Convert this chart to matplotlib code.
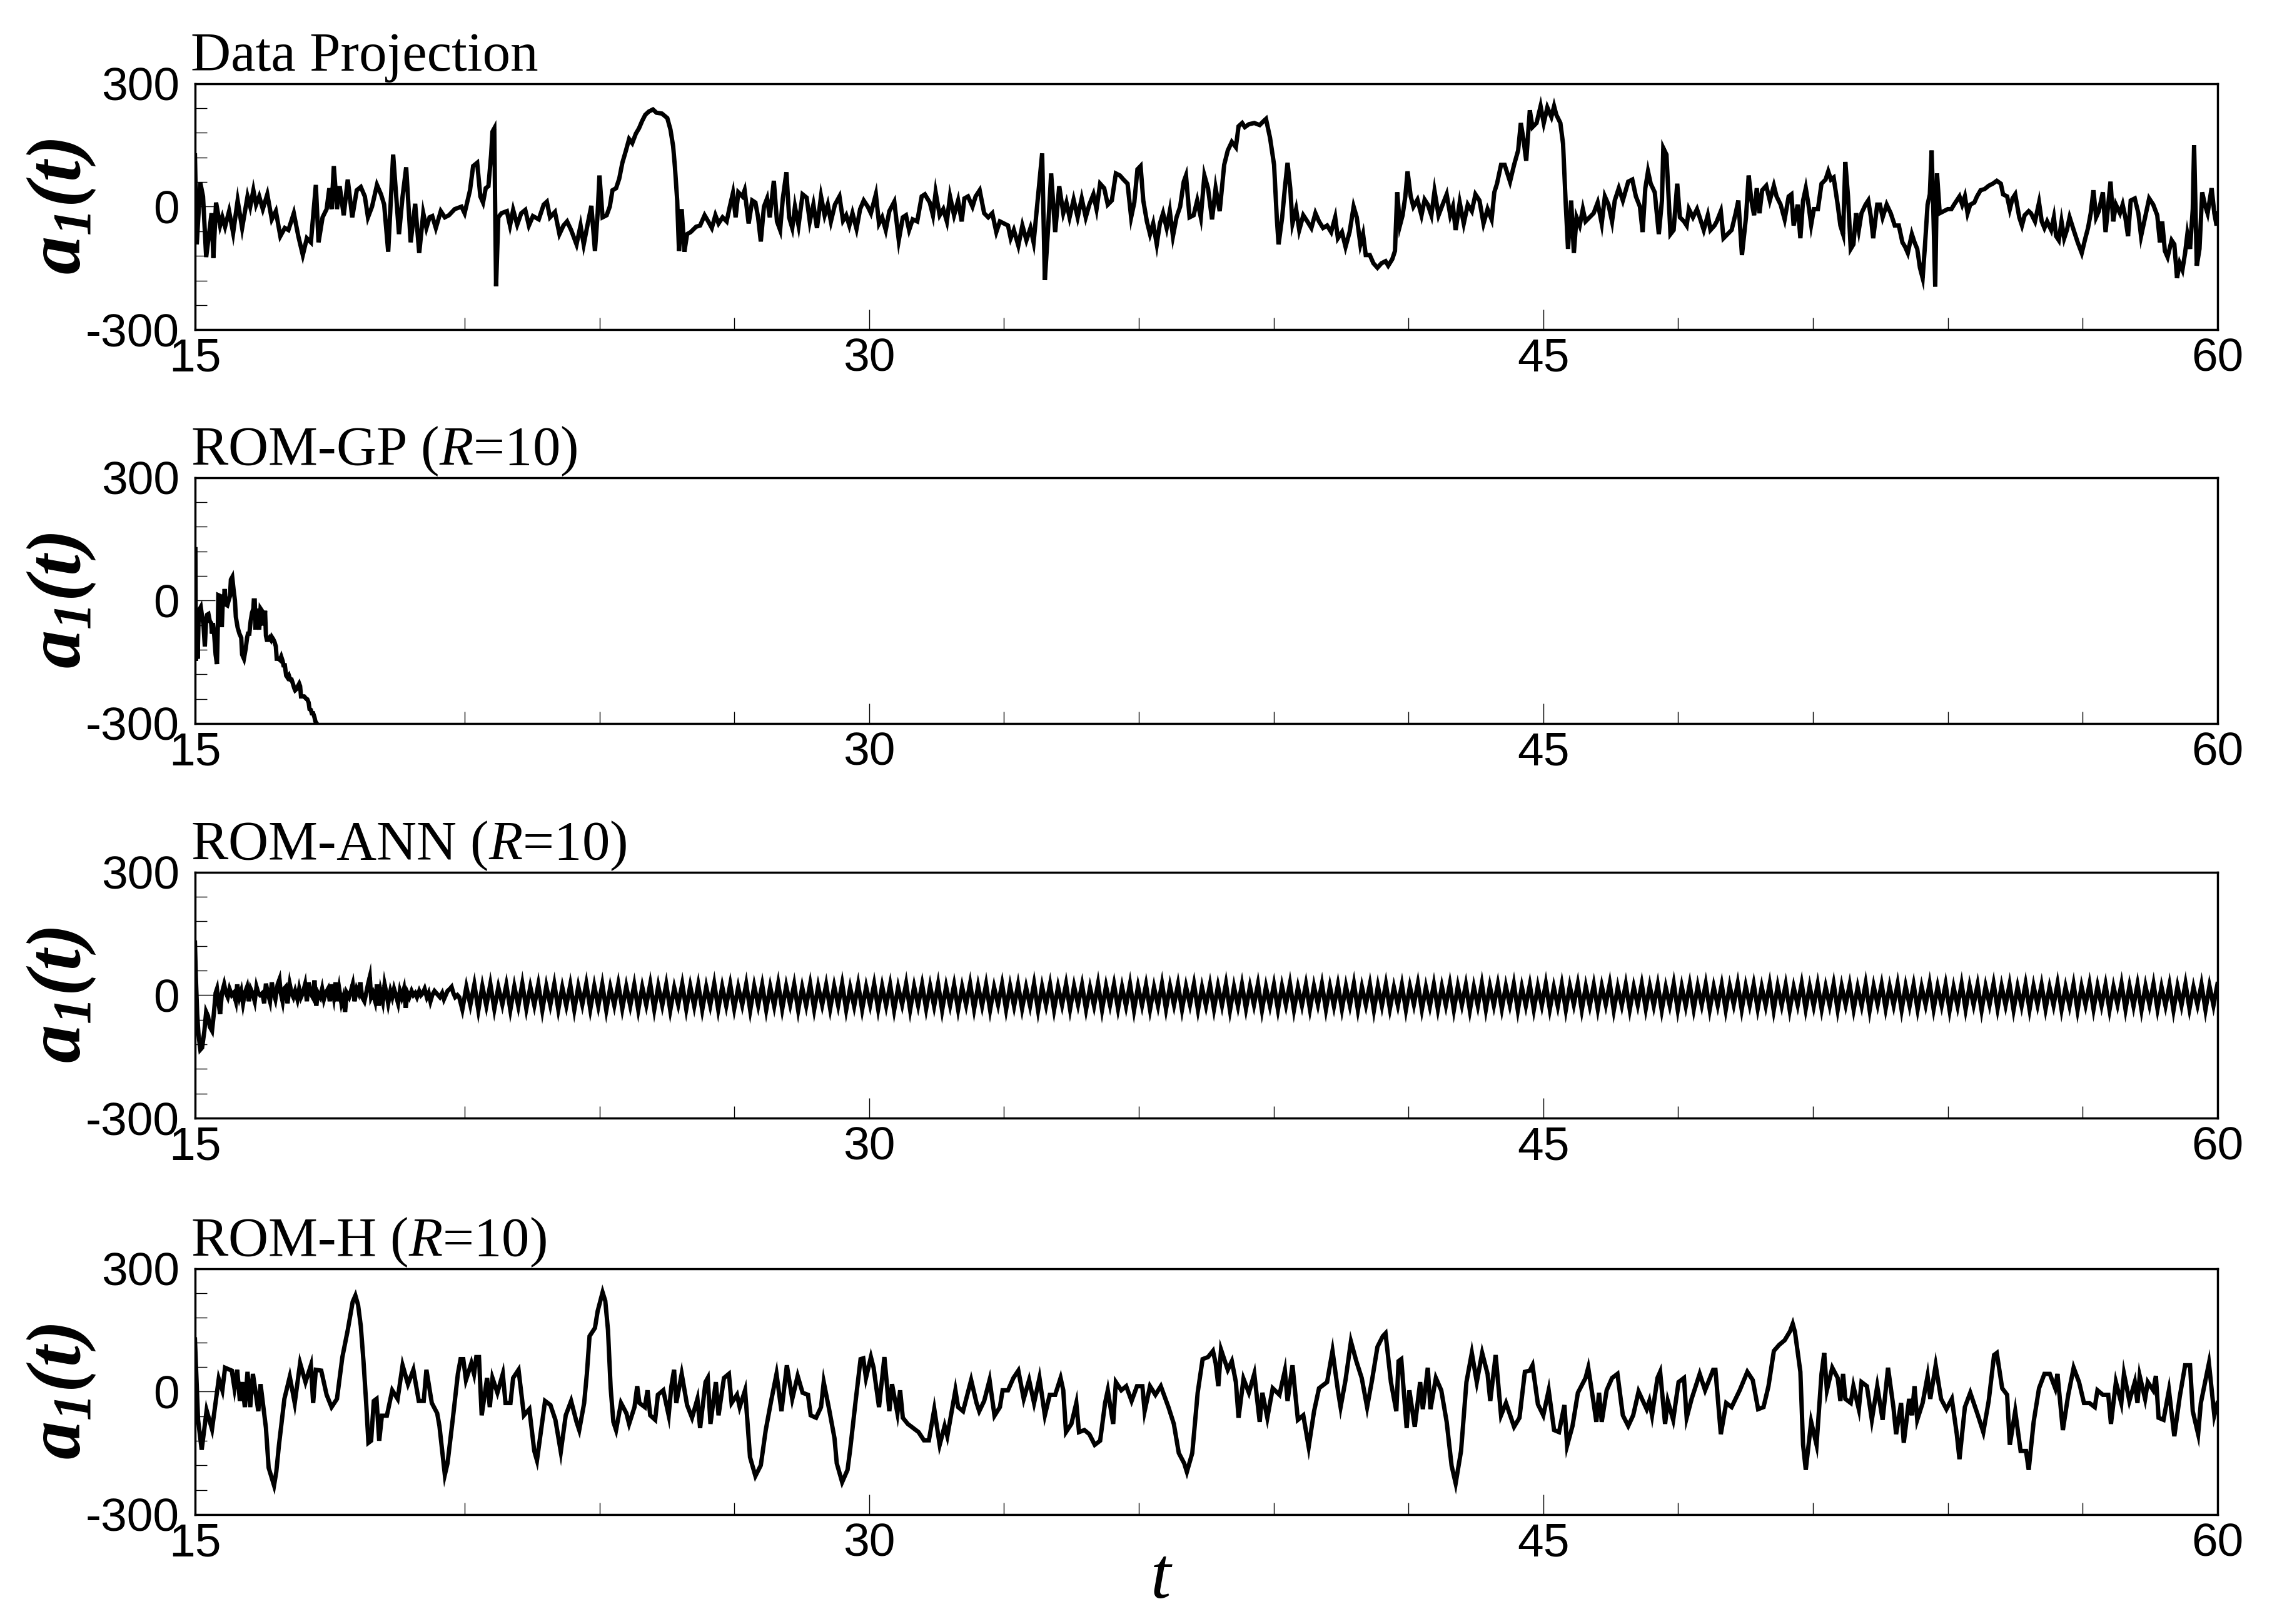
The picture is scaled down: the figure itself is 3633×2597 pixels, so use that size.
import matplotlib
matplotlib.use("Agg")
import matplotlib.pyplot as plt
import numpy as np

# ---- data: (t, a1) pairs ----
proj_pts = [
    (15.00, 125), (15.04, -92), (15.12, 58), (15.18, 25), (15.25, -123), (15.37, -16), (15.41, -125),
    (15.47, 10), (15.56, -46), (15.61, -26), (15.67, -49), (15.76, -11), (15.85, -64), (15.95, 15),
    (16.05, -52), (16.17, 25), (16.23, 0), (16.30, 40), (16.36, 5), (16.43, 25), (16.51, -6), (16.61, 30),
    (16.71, -31), (16.80, -11), (16.90, -72), (17.00, -52), (17.08, -57), (17.20, -16), (17.30, -72),
    (17.40, -118), (17.49, -77), (17.58, -87), (17.69, 53), (17.75, -87), (17.84, -26), (17.93, -6),
    (17.99, 45), (18.04, -6), (18.09, 99), (18.16, -6), (18.22, 50), (18.31, -21), (18.40, 66),
    (18.50, -26), (18.60, 40), (18.69, 48), (18.78, 25), (18.85, -26), (18.94, 0), (19.05, 53),
    (19.14, 30), (19.21, 5), (19.30, -110), (19.41, 127), (19.54, -67), (19.62, 25), (19.70, 96),
    (19.80, -87), (19.90, 7), (19.99, -113), (20.08, -16), (20.15, -52), (20.22, -26), (20.28, -23),
    (20.36, -52), (20.47, -11), (20.56, -26), (20.65, -21), (20.78, -6), (20.93, 0), (21.00, -16),
    (21.12, 40), (21.19, 99), (21.28, 107), (21.35, 25), (21.41, 10), (21.47, 45), (21.53, 50),
    (21.59, 127), (21.62, 183), (21.66, 191), (21.70, -194), (21.75, -26), (21.82, -16), (21.94, -11),
    (22.01, -46), (22.08, -8), (22.17, -44), (22.26, -16), (22.35, -8), (22.43, -46), (22.52, -23),
    (22.65, -31), (22.76, 5), (22.83, 12), (22.90, -26), (23.01, -13), (23.11, -67), (23.20, -46),
    (23.28, -36), (23.37, -57), (23.49, -92), (23.58, -46), (23.65, -92), (23.75, -36), (23.82, 2),
    (23.90, -108), (23.96, -16), (24.00, 76), (24.07, -26), (24.16, -21), (24.23, 0), (24.29, 40),
    (24.37, 45), (24.44, 68), (24.51, 107), (24.59, 137), (24.66, 165), (24.73, 155), (24.81, 178),
    (24.88, 191), (24.95, 209), (25.02, 224), (25.10, 232), (25.19, 237), (25.27, 229), (25.39, 227),
    (25.51, 216), (25.58, 188), (25.64, 147), (25.68, 96), (25.73, 15), (25.77, -108), (25.83, -6),
    (25.89, -110), (25.95, -67), (26.03, -62), (26.15, -49), (26.24, -46), (26.34, -21), (26.42, -36),
    (26.50, -52), (26.58, -21), (26.65, -41), (26.74, -26), (26.83, -36), (26.90, 0), (26.97, 33),
    (27.03, -26), (27.09, 35), (27.18, 25), (27.23, 40), (27.32, -41), (27.40, 15), (27.47, 10),
    (27.53, -26), (27.59, -85), (27.66, 0), (27.73, 20), (27.79, -26), (27.88, 63), (27.95, -36),
    (28.02, -57), (28.08, 20), (28.16, 84), (28.22, -26), (28.29, -52), (28.35, 0), (28.43, -46),
    (28.52, 30), (28.61, 22), (28.68, -36), (28.76, 5), (28.84, -52), (28.93, 25), (29.01, -21),
    (29.08, 5), (29.15, -36), (29.24, 5), (29.34, 25), (29.42, -34), (29.49, -21), (29.56, -46),
    (29.63, -16), (29.72, -54), (29.80, -6), (29.88, 15), (29.97, 0), (30.04, -16), (30.15, 30),
    (30.22, -41), (30.29, -26), (30.37, -57), (30.45, -11), (30.56, 12), (30.66, -82), (30.75, -26),
    (30.82, -21), (30.89, -57), (30.97, -31), (31.07, -36), (31.17, 25), (31.24, 30), (31.35, 10),
    (31.42, -21), (31.48, 35), (31.57, -21), (31.65, -6), (31.73, -36), (31.80, 25), (31.89, -21),
    (31.98, 15), (32.06, -36), (32.12, 20), (32.20, 25), (32.30, 0), (32.37, 25), (32.46, 40),
    (32.56, -16), (32.65, -26), (32.74, -16), (32.83, -62), (32.91, -36), (33.00, -41), (33.09, -46),
    (33.15, -77), (33.22, -57), (33.32, -95), (33.41, -46), (33.50, -82), (33.59, -52), (33.66, -87),
    (33.75, 15), (33.85, 130), (33.91, -179), (33.98, -57), (34.05, 81), (34.14, -62), (34.23, 50),
    (34.32, -16), (34.39, 10), (34.46, -26), (34.55, 17), (34.64, -26), (34.73, 20), (34.82, -26),
    (34.90, 5), (34.99, 30), (35.06, -6), (35.14, 56), (35.23, 45), (35.31, 5), (35.40, 15), (35.49, 81),
    (35.58, 76), (35.66, 66), (35.75, 56), (35.83, -26), (35.90, 10), (35.97, 91), (36.04, 99),
    (36.10, 15), (36.18, -36), (36.25, -67), (36.32, -41), (36.40, -92), (36.47, -41), (36.54, -16),
    (36.62, -52), (36.69, -11), (36.76, -72), (36.84, -26), (36.92, 0), (37.00, 61), (37.05, 76),
    (37.13, -26), (37.22, -21), (37.30, 15), (37.38, -26), (37.46, 76), (37.54, 45), (37.63, -31),
    (37.71, 45), (37.80, -11),
    (37.90, 102), (37.98, 137), (38.07, 158), (38.16, 145), (38.22, 196), (38.30, 204), (38.36, 194),
    (38.45, 201), (38.57, 204), (38.69, 199), (38.78, 209), (38.83, 214), (38.92, 168), (39.01, 102),
    (39.07, -26), (39.11, -92), (39.19, -26), (39.25, 45), (39.31, 107), (39.37, 45), (39.42, -41),
    (39.50, -6), (39.57, -57), (39.66, -21), (39.75, -36), (39.84, -52), (39.93, -16), (40.01, -36),
    (40.10, -52), (40.19, -46), (40.28, -62), (40.37, -26), (40.43, -77), (40.52, -62), (40.60, -98),
    (40.69, -62), (40.78, 0), (40.85, -26), (40.93, -92), (40.99, -67), (41.05, -118), (41.14, -118),
    (41.22, -138), (41.31, -149), (41.40, -138), (41.49, -133), (41.55, -144), (41.64, -128),
    (41.70, -108), (41.75, 35), (41.81, -46), (41.87, -21), (41.93, 25), (41.98, 86), (42.05, 25),
    (42.11, 0), (42.20, 17), (42.29, -21), (42.36, 17), (42.43, 5), (42.51, -21), (42.58, 38),
    (42.67, -21), (42.76, 5), (42.85, 30), (42.93, -21), (42.99, 0), (43.05, -57), (43.14, 10),
    (43.23, -41), (43.32, 5), (43.41, -11), (43.49, 30), (43.58, 15), (43.67, -41), (43.76, -6),
    (43.85, -31), (43.91, 35), (43.97, 56), (44.06, 102), (44.14, 102), (44.26, 61), (44.35, 102),
    (44.44, 137), (44.50, 204), (44.56, 163), (44.62, 112), (44.70, 235), (44.76, 194), (44.85, 204),
    (44.94, 245), (45.01, 204), (45.09, 242), (45.18, 219), (45.24, 245), (45.29, 224), (45.38, 204),
    (45.44, 153), (45.50, 5), (45.55, -103), (45.62, 15), (45.68, -113), (45.74, -26), (45.81, -46),
    (45.88, -6), (45.94, -36), (46.03, -26), (46.12, -16), (46.21, 10), (46.30, -41), (46.37, 25),
    (46.45, 5), (46.53, -36), (46.59, 15), (46.68, 45), (46.77, 15), (46.89, 61), (46.98, 66),
    (47.06, 25), (47.15, 0), (47.21, -62), (47.27, 45), (47.33, 86), (47.39, 56), (47.48, 35),
    (47.57, -67), (47.64, 15), (47.67, 143), (47.74, 127), (47.83, -67), (47.90, -57), (47.98, 56),
    (48.04, -26), (48.13, -36), (48.19, -46), (48.24, -6), (48.33, -26), (48.42, -6), (48.48, -26),
    (48.57, -57), (48.66, -21), (48.72, -57), (48.81, -46), (48.86, -36), (48.95, -11), (49.01, -77),
    (49.10, -67), (49.19, -57), (49.28, -16), (49.34, 15), (49.42, -118), (49.51, -26), (49.57, 76),
    (49.63, 15), (49.69, -21), (49.75, 45), (49.81, -16), (49.87, 40), (49.96, 51), (50.04, 15),
    (50.13, 51), (50.19, 25), (50.28, 5), (50.37, -31), (50.46, 25), (50.52, 30), (50.57, -46),
    (50.66, 5), (50.72, -77), (50.78, 15), (50.84, 45), (50.90, 5), (50.96, -44), (51.02, -6),
    (51.11, -6), (51.19, 56), (51.28, 66), (51.34, 86), (51.40, 66), (51.46, 71), (51.55, 5),
    (51.61, -46), (51.67, -67), (51.72, 109), (51.78, 25), (51.84, -103), (51.90, -92), (51.96, -16),
    (52.02, -57), (52.08, -16), (52.17, 5), (52.23, 15), (52.29, -26), (52.34, -77), (52.43, 5),
    (52.49, 5), (52.55, -26), (52.64, 5), (52.73, -16), (52.82, -46), (52.91, -46), (52.99, -87),
    (53.05, -98), (53.11, -113), (53.20, -67), (53.26, -87), (53.32, -103), (53.38, -149),
    (53.44, -174), (53.49, -98), (53.55, 5), (53.60, 30), (53.64, 137), (53.67, 25), (53.72, -195),
    (53.76, 81), (53.82, -16), (53.91, -11), (54.00, -6), (54.08, -6), (54.14, 5), (54.20, 15),
    (54.26, 25), (54.32, 5), (54.38, 25), (54.44, -16), (54.50, 5), (54.59, 10), (54.65, 25),
    (54.73, 40), (54.82, 43), (54.91, 51), (55.00, 56), (55.09, 63), (55.18, 56), (55.23, 30),
    (55.32, 25), (55.38, -6), (55.44, 20), (55.50, 30), (55.59, -26), (55.65, -46), (55.71, -21),
    (55.80, -11), (55.85, -16), (55.94, -36), (56.03, 10), (56.09, -36), (56.15, -52), (56.21, -36),
    (56.30, -57), (56.36, -26), (56.41, -72), (56.47, -82), (56.53, -36), (56.59, -77), (56.65, -57),
    (56.71, -26), (56.80, -57), (56.89, -87), (56.98, -113), (57.06, -77), (57.12, -52), (57.18, -16),
    (57.24, 40), (57.30, -26), (57.36, -11), (57.45, 35), (57.51, -62), (57.57, 5), (57.62, 61),
    (57.68, -36), (57.74, 5), (57.83, -16), (57.89, 5), (57.95, -26), (58.01, -72), (58.07, 15),
    (58.16, 20), (58.24, -16), (58.30, -72), (58.39, -26), (58.48, 20), (58.57, 5), (58.66, -21),
    (58.72, -87), (58.77, -36), (58.83, -108), (58.89, -123), (58.98, -82), (59.04, -92),
    (59.10, -174), (59.16, -138), (59.22, -154), (59.28, -113), (59.33, -67), (59.39, -103),
    (59.45, -6), (59.48, 150), (59.54, -144), (59.60, -103), (59.66, 35), (59.72, 5), (59.78, -16),
    (59.87, 45), (59.93, -16), (59.98, -46), (60.00, -16),
]

gp_pts = [
    (15.01, 125), (15.02, -147), (15.04, -20), (15.06, -142), (15.08, -50), (15.11, -20), (15.13, -16),
    (15.16, -40), (15.19, -60), (15.22, -112), (15.25, -45), (15.27, -35), (15.30, -33), (15.33, -50),
    (15.36, -55), (15.38, -81), (15.40, -55), (15.43, -86), (15.46, -132), (15.49, -155), (15.51, -60),
    (15.52, 13), (15.56, 11), (15.58, -60), (15.60, -60), (15.62, 0), (15.64, -10), (15.66, 28),
    (15.69, -10), (15.72, -12), (15.75, 0), (15.78, 11), (15.80, 51), (15.83, 57), (15.86, 26),
    (15.89, 0), (15.91, -40), (15.95, -66), (15.99, -81), (16.03, -91), (16.05, -132), (16.09, -142),
    (16.13, -117), (16.16, -91), (16.18, -81), (16.21, -81), (16.24, -50), (16.27, -30), (16.30, -20),
    (16.31, 0), (16.33, 0), (16.35, -71), (16.37, -20), (16.40, -45), (16.43, -71), (16.46, -20),
    (16.49, -25), (16.52, -61), (16.55, -40), (16.56, -25), (16.58, -86), (16.60, -96), (16.63, -96),
    (16.66, -91), (16.69, -96), (16.71, -89), (16.74, -94), (16.77, -101), (16.80, -112), (16.82, -142),
    (16.86, -142), (16.89, -145), (16.92, -137), (16.95, -147), (16.97, -158), (17.00, -158),
    (17.03, -183), (17.06, -188), (17.09, -183), (17.12, -193), (17.15, -193), (17.18, -203),
    (17.21, -214), (17.23, -219), (17.26, -216), (17.29, -209), (17.32, -203), (17.34, -209),
    (17.36, -234), (17.39, -234), (17.43, -234), (17.47, -239), (17.50, -241), (17.53, -249),
    (17.55, -265), (17.58, -267), (17.60, -275), (17.63, -275), (17.66, -285), (17.68, -295),
    (17.71, -300), (17.74, -320),
]

ann_start_pts = [
    (15.00, 128), (15.02, 46), (15.05, -46), (15.08, -97), (15.12, -133), (15.16, -128), (15.21, -87),
    (15.25, -41), (15.29, -51), (15.33, -77), (15.38, -87), (15.42, -46), (15.46, 5), (15.49, 15),
    (15.52, -15), (15.56, -46), (15.60, 5), (15.65, 26), (15.69, 5), (15.73, -5), (15.77, 15),
    (15.82, 0), (15.86, 5), (15.91, -15), (15.94, 26), (15.99, -5), (16.03, 10), (16.07, -20),
    (16.11, 5), (16.16, 20), (16.20, -15), (16.24, 15), (16.28, 5), (16.33, -15), (16.37, 20),
    (16.41, 5), (16.45, 0), (16.50, 5), (16.54, -20), (16.58, 28), (16.62, 5), (16.67, -15),
    (16.71, 31), (16.75, 5), (16.79, -10), (16.84, 26), (16.88, 38), (16.91, 5), (16.95, -15),
    (16.98, 15), (17.02, 20), (17.06, -20), (17.11, 26), (17.15, 5), (17.19, -5), (17.23, 10),
    (17.28, -10), (17.32, 15), (17.36, -5), (17.40, 5), (17.45, 26), (17.49, -15), (17.53, 31),
    (17.57, 5), (17.62, -5), (17.66, 36), (17.70, -26), (17.74, 5), (17.79, -5), (17.83, 15),
    (17.87, -10), (17.91, 5), (17.96, 15), (18.00, -15), (18.04, 26), (18.09, -5), (18.13, 31),
    (18.17, -15), (18.21, 15), (18.26, -20), (18.30, -5), (18.34, -41), (18.38, 5), (18.43, -5),
    (18.47, 10), (18.51, 26), (18.55, -15), (18.60, 15), (18.64, 5), (18.68, 31), (18.72, -5),
    (18.77, -15), (18.81, 5), (18.85, 26), (18.89, 44), (18.92, -5), (18.96, 5), (19.01, -15),
    (19.05, 26), (19.09, -26), (19.13, 10), (19.18, -15), (19.22, 26), (19.26, 5), (19.30, -20),
    (19.35, 10), (19.39, -5), (19.43, 15), (19.47, 0), (19.52, -20), (19.56, 10), (19.60, -5),
    (19.65, 15), (19.69, -31), (19.73, 5), (19.77, -5), (19.82, 10), (19.86, 0), (19.90, 5),
    (19.94, -5), (19.99, 10), (20.03, 0), (20.07, 5), (20.11, 15), (20.16, -5), (20.20, 5),
    (20.24, -15), (20.28, 0), (20.33, 10), (20.37, 5), (20.41, 0), (20.45, -5), (20.50, 5),
    (20.54, -10), (20.58, 0), (20.62, 10), (20.67, 15), (20.71, 20), (20.75, 5), (20.79, -5),
    (20.84, 0), (20.88, -5),
]

# steady oscillation of ROM-ANN, turning points read at the sampling step
ann_steady_t0, ann_steady_t1 = 20.95, 60.0
ann_steady = [
    -35, 20, -24, 26, -37, 22, -26, 27, -34, 19, -23, 25, -36, 21, -27, 28, -33, 20, -25, 26,
    -37, 22, -24, 27, -35, 19, -26, 25, -36, 21, -23, 28, -34, 22, -27, 26, -37, 19, -25, 27,
    -33, 21, -26, 25, -36, 20, -24, 28, -35, 22, -25, 26, -37, 18, -23, 27, -34, 22, -27, 25,
    -36, 20, -25, 28, -35, 21, -26, 26, -33, 19, -24, 27, -37, 22, -25, 25, -36, 20, -27, 28,
    -34, 22, -23, 26, -37, 19, -26, 27, -35, 21, -24, 25, -33, 22, -25, 28, -36, 18, -27, 26,
    -35, 20, -24, 27, -34, 22, -26, 25, -37, 19, -23, 28, -36, 21, -25, 26, -33, 22, -27, 27,
    -37, 21, -25, 25, -35, 20, -24, 28, -34, 22, -26, 26, -36, 19, -23, 27, -35, 22, -27, 25,
    -33, 19, -26, 28, -37, 21, -25, 26, -36, 20, -24, 27, -34, 22, -23, 25, -35, 18, -26, 28,
    -36, 22, -24, 26, -33, 20, -27, 27, -37, 21, -25, 25, -35, 19, -26, 28, -34, 22, -24, 26,
    -35, 21, -23, 27, -36, 19, -26, 25, -34, 22, -25, 28, -37, 20, -27, 26, -33, 21, -24, 27,
    -37, 20, -26, 25, -35, 22, -24, 28, -36, 19, -25, 26, -34, 22, -23, 27, -35, 21, -27, 25,
    -34, 22, -25, 28, -36, 20, -24, 26, -37, 22, -26, 27, -33, 19, -25, 25, -36, 21, -23, 28,
    -35, 19, -27, 26, -34, 21, -25, 27, -36, 22, -24, 25, -37, 20, -26, 28, -35, 22, -25, 26,
    -33, 22, -24, 27, -37, 20, -26, 25, -35, 21, -25, 28, -34, 19, -27, 26, -36, 22, -23, 27,
    -36, 21, -26, 25, -34, 22, -23, 28, -37, 19, -25, 26, -35, 20, -24, 27, -33, 22, -26, 25,
    -37, 19, -25, 28, -36, 21, -27, 26, -34, 22, -24, 27, -35, 20, -25, 25, -36, 22, -23, 28,
    -35, 22, -24, 26, -33, 20, -26, 27, -37, 22, -25, 25, -36, 19, -24, 28, -34, 21, -27, 26,
    -34, 20, -25, 27, -36, 22, -24, 25, -35, 19, -26, 28, -37, 22, -23, 26, -33, 21, -25, 27,
    -36, 22, -26, 25, -35, 20, -24, 28, -34, 21, -25, 26, -37, 19, -27, 27, -35, 22, -24, 25,
    -37, 21, -23, 28, -33, 22, -25, 26, -36, 20, -26, 27, -35, 22, -24, 25, -34, 19, -25, 28,
    -35, 19, -26, 26, -37, 21, -24, 27, -34, 22, -25, 25, -36, 20, -23, 28, -35, 22, -27, 26,
    -36, 22, -24, 27, -34, 20, -26, 25, -37, 21, -25, 28, -33, 19, -24, 26, -36, 22, -25, 27,
]

h_pts = [
    (15.00, 127), (15.07, -69), (15.15, -142), (15.26, -46), (15.38, -92), (15.53, 31), (15.61, 3),
    (15.67, 58), (15.82, 51), (15.88, 8), (15.94, 53), (16.00, -23), (16.05, 23), (16.11, -38),
    (16.17, 48), (16.23, -38), (16.29, 43), (16.41, -48), (16.46, 18), (16.58, -89), (16.64, -186),
    (16.76, -229), (16.81, -196), (16.87, -130), (16.99, -18), (17.11, 36), (17.22, -28), (17.34, 69),
    (17.46, 23), (17.58, 64), (17.63, -28), (17.69, 53), (17.81, 51), (17.93, -8), (18.04, -38),
    (18.16, -18), (18.28, 84), (18.40, 150), (18.51, 219), (18.57, 234), (18.63, 211), (18.69, 160),
    (18.75, 74), (18.81, -28), (18.86, -125), (18.92, -120), (18.98, -23), (19.04, -18), (19.10, -120),
    (19.16, -59), (19.27, -59), (19.39, 3), (19.51, -18), (19.62, 64), (19.74, 18), (19.86, 53),
    (19.98, -23), (20.09, -23), (20.15, 53), (20.27, -28), (20.39, -53), (20.44, -84), (20.56, -203),
    (20.62, -175), (20.74, -64), (20.85, 43), (20.91, 79), (20.97, 79), (21.03, 28), (21.15, 69),
    (21.21, 43), (21.26, 84), (21.32, 84), (21.38, -58), (21.50, 33), (21.56, -38), (21.62, 33),
    (21.73, -3), (21.85, 43), (21.91, -28), (22.02, -28), (22.08, 33), (22.20, 53), (22.32, -58),
    (22.44, -43), (22.55, -145), (22.61, -168), (22.67, -120), (22.79, -23), (22.91, -33), (23.02, -69),
    (23.14, -147), (23.25, -58), (23.37, -23), (23.49, -74), (23.55, -94), (23.66, -28), (23.72, 43),
    (23.78, 135), (23.90, 155), (23.96, 196), (24.07, 242), (24.13, 221), (24.19, 150), (24.25, 8),
    (24.31, -74), (24.37, -94), (24.48, -28), (24.60, -53), (24.66, -79), (24.78, -38), (24.84, 13),
    (24.89, -28), (25.01, -38), (25.07, 3), (25.13, -58), (25.24, -69), (25.30, -8), (25.42, 3),
    (25.54, -58), (25.60, 13), (25.66, 53), (25.71, -28), (25.83, 43), (25.95, -33), (26.06, -64),
    (26.18, -18), (26.24, -89), (26.36, 23), (26.41, 33), (26.47, -79), (26.59, 23), (26.65, -58),
    (26.77, 33), (26.88, 43), (26.94, -28), (27.06, -8), (27.12, -38), (27.24, 3), (27.29, -69),
    (27.35, -160), (27.47, -206), (27.59, -180), (27.70, -94), (27.82, -23), (27.94, 43), (28.05, -48),
    (28.17, 64), (28.29, -18), (28.41, 38), (28.52, -3), (28.64, -8), (28.70, -58), (28.82, -64),
    (28.93, -38), (28.99, 23), (29.11, -43), (29.23, -114), (29.28, -175), (29.40, -221), (29.52, -191),
    (29.58, -140), (29.70, -23), (29.81, 79), (29.87, 81), (29.93, 33), (30.04, 84), (30.10, 58),
    (30.22, -38), (30.34, 84), (30.45, -48), (30.51, 18), (30.63, -53), (30.69, 3), (30.75, -64),
    (30.86, -79), (30.98, -89), (31.10, -99), (31.22, -119), (31.33, -119), (31.45, -43), (31.57, -130),
    (31.68, -84), (31.74, -109), (31.92, 3), (31.98, -38), (32.09, -48), (32.27, 28), (32.39, -28),
    (32.45, -48), (32.56, -23), (32.68, 28), (32.79, -59), (32.91, -38), (32.97, 3), (33.09, 3),
    (33.21, 33), (33.32, 51), (33.44, -18), (33.56, 28), (33.67, -28), (33.79, 33), (33.91, -58),
    (34.02, -8), (34.14, -8), (34.26, 33), (34.32, 3), (34.38, -99), (34.50, -79), (34.61, -28),
    (34.67, -99), (34.79, -94), (34.90, -104), (35.02, -130), (35.14, -120), (35.25, -28), (35.31, 3),
    (35.43, -79), (35.49, 23), (35.61, 3), (35.72, 13), (35.84, -23), (35.96, 13), (36.08, 13),
    (36.13, -48), (36.25, 13), (36.37, -8), (36.49, 13), (36.66, -38), (36.78, -79), (36.89, -150),
    (37.01, -175), (37.07, -196), (37.19, -150), (37.31, -3), (37.42, 79), (37.54, 84), (37.65, 99),
    (37.71, 69), (37.77, 13),
    (37.83, 102), (37.98, 53), (38.07, 74), (38.16, 23), (38.22, -64), (38.33, 31), (38.45, -3),
    (38.57, 43), (38.69, -74), (38.75, -3), (38.86, -64), (38.98, 8), (39.13, -8), (39.25, 51),
    (39.31, -23), (39.42, 64), (39.54, -69), (39.66, -58), (39.78, -135), (39.90, -48), (40.01, 8),
    (40.19, 23), (40.31, 99), (40.43, 3), (40.49, -38), (40.60, 28), (40.72, 122), (40.84, 74),
    (40.96, 33), (41.08, -38), (41.19, 28), (41.31, 109), (41.43, 135), (41.49, 142), (41.61, 23),
    (41.73, -48), (41.78, 74), (41.84, 79), (41.96, -89), (42.02, 3), (42.14, -86), (42.26, 23),
    (42.32, -43), (42.43, 58), (42.49, -43), (42.61, 33), (42.73, 3), (42.85, -74), (42.96, -181),
    (43.05, -224), (43.17, -145), (43.29, 23), (43.41, 94), (43.52, 23), (43.64, 94), (43.76, 43),
    (43.82, -23), (43.94, 89), (44.06, -58), (44.17, -28), (44.35, -86), (44.47, -64), (44.59, 48),
    (44.70, 51), (44.76, 64), (44.88, -31), (45.00, -58), (45.12, 3), (45.24, -94), (45.35, -99),
    (45.47, -33), (45.53, -132), (45.65, -84), (45.77, -3), (45.94, 33), (46.00, 58), (46.12, -28),
    (46.18, -74), (46.24, -3), (46.30, -74), (46.41, 3), (46.53, 33), (46.65, 43), (46.77, -58),
    (46.89, -84), (47.00, -58), (47.12, 0), (47.30, -43), (47.36, -23), (47.42, -58), (47.54, 33),
    (47.60, 48), (47.71, -79), (47.77, -23), (47.89, -69), (48.01, 23), (48.13, 33), (48.19, -64),
    (48.30, -18), (48.48, 43), (48.60, 3), (48.78, 53), (48.83, 53), (48.95, -104), (49.07, -28),
    (49.19, -38), (49.37, 3), (49.54, 48), (49.66, 28), (49.78, -43), (49.90, -38), (50.01, 13),
    (50.13, 99), (50.25, 114), (50.37, 125), (50.49, 147), (50.55, 165), (50.60, 145), (50.72, 48),
    (50.78, -130), (50.84, -191), (50.96, -74), (51.08, -130), (51.19, 43), (51.25, 94), (51.31, 3),
    (51.43, 58), (51.55, 33), (51.61, -23), (51.67, 43), (51.72, -18), (51.84, -28), (51.90, 13),
    (52.02, -43), (52.08, 23), (52.20, 13), (52.31, -69), (52.43, 13), (52.55, -69), (52.67, 58),
    (52.79, -38), (52.85, -104), (52.96, -28), (53.02, -125), (53.14, -18), (53.20, -58), (53.26, 13),
    (53.32, -69), (53.44, -28), (53.55, 38), (53.61, -18), (53.73, 64), (53.85, -18), (53.97, -43),
    (54.09, -18), (54.20, -104), (54.26, -165), (54.38, -38), (54.50, -3), (54.67, -58), (54.79, -99),
    (54.91, -23), (55.03, 89), (55.09, 94), (55.21, 8), (55.32, -8), (55.38, -130), (55.50, -48),
    (55.62, -145), (55.74, -145), (55.80, -191), (55.91, -74), (56.03, 8), (56.15, 43), (56.27, 43),
    (56.39, 8), (56.44, 43), (56.56, -94), (56.68, -8), (56.80, 58), (56.92, 23), (57.03, -28),
    (57.15, -28), (57.27, -38), (57.33, 3), (57.45, -8), (57.57, -8), (57.63, -79), (57.74, 23),
    (57.86, -28), (57.92, 43), (58.04, -23), (58.16, 23), (58.22, -28), (58.27, 38), (58.39, -18),
    (58.45, 23), (58.57, 3), (58.63, 38), (58.69, -64), (58.80, -69), (58.92, 3), (59.04, -109),
    (59.16, -13), (59.28, 64), (59.39, 64), (59.45, -48), (59.57, -104), (59.63, -28), (59.81, 69),
    (59.93, -58), (60.00, -28),
]

titles = ["Data Projection", "ROM-GP ($R$=10)", "ROM-ANN ($R$=10)", "ROM-H ($R$=10)"]
x_major = [15, 30, 45, 60]
x_minor = [21, 24, 27, 33, 36, 39, 42, 48, 51, 54, 57]
y_major = [-300, 0, 300]
y_minor = [-240, -180, -120, -60, 60, 120, 180, 240]

plt.rcParams["font.family"] = "Liberation Sans"
plt.rcParams["axes.unicode_minus"] = False
plt.rcParams["mathtext.fontset"] = "custom"
plt.rcParams["mathtext.rm"] = "Liberation Serif"
plt.rcParams["mathtext.it"] = "Liberation Serif:italic"
plt.rcParams["mathtext.bf"] = "Liberation Serif:bold:italic"

ann_t = [p[0] for p in ann_start_pts] + list(np.linspace(ann_steady_t0, ann_steady_t1, len(ann_steady)))
ann_v = [p[1] for p in ann_start_pts] + ann_steady

series = [
    ([p[0] for p in proj_pts], [p[1] for p in proj_pts]),
    ([p[0] for p in gp_pts], [p[1] for p in gp_pts]),
    (ann_t, ann_v),
    ([p[0] for p in h_pts], [p[1] for p in h_pts]),
]

fig = plt.figure(figsize=(36.33, 25.97), dpi=100)
bottoms = [0.797, 0.5545, 0.3115, 0.0674]

for (t, a1), title, bottom in zip(series, titles, bottoms):
    ax = fig.add_axes([0.0858, bottom, 0.8902, 0.1515])
    ax.plot(t, a1, color="black", linewidth=5, solid_joinstyle="miter")
    ax.set_xlim(15, 60)
    ax.set_ylim(-300, 300)
    ax.set_xticks(x_major)
    ax.set_xticks(x_minor, minor=True)
    ax.set_yticks(y_major)
    ax.set_yticks(y_minor, minor=True)
    ax.tick_params(which="both", direction="in", top=False, right=False, width=1, labelsize=54)
    ax.tick_params(which="major", length=23)
    ax.tick_params(which="minor", length=14)
    ax.tick_params(axis="x", pad=9)
    ax.tick_params(axis="y", pad=18)
    for spine in ax.spines.values():
        spine.set_linewidth(2.5)
    ax.text(-0.002, 1.053, title, transform=ax.transAxes, ha="left", va="baseline",
            fontsize=64, family="Liberation Serif")
    ax.text(-0.066, 0.5, r"$\mathbf{a_1(t)}$", transform=ax.transAxes, rotation=90,
            ha="center", va="center", fontsize=88)

fig.text(0.511, 0.016, "t", fontsize=84, family="Liberation Serif", style="italic",
         ha="center", va="baseline")

fig.savefig("out.png", dpi=100)
